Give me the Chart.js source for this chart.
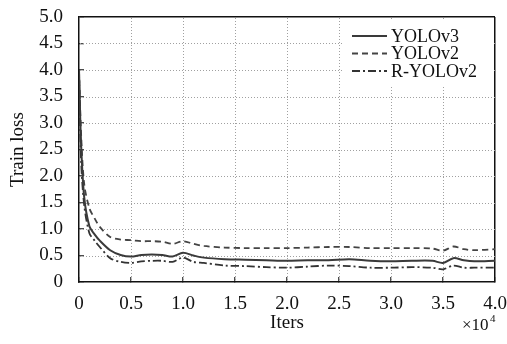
<!DOCTYPE html>
<html>
<head>
<meta charset="utf-8">
<script src="https://cdn.jsdelivr.net/npm/chart.js@4/dist/chart.umd.min.js"></script>
<style>
  html, body { margin: 0; padding: 0; background: #fff; }
  #wrap { width: 507px; height: 344px; }
</style>
</head>
<body>
<div id="wrap"><canvas id="lossChart"></canvas></div>
<script>
// iterations, in units of 10^4
const iters = [0, 0.02, 0.05, 0.1, 0.15, 0.2, 0.3, 0.4, 0.5, 0.6, 0.7, 0.8, 0.9, 1.0, 1.1, 1.2, 1.4, 1.6, 1.8, 2.0, 2.2, 2.4, 2.6, 2.8, 3.0, 3.2, 3.4, 3.5, 3.6, 3.7, 3.8, 4.0];

const yolov3  = [4.0, 2.6, 1.6, 1.05, 0.9, 0.78, 0.6, 0.51, 0.48, 0.51, 0.52, 0.51, 0.48, 0.55, 0.5, 0.46, 0.43, 0.42, 0.41, 0.40, 0.41, 0.41, 0.43, 0.40, 0.39, 0.40, 0.40, 0.36, 0.45, 0.41, 0.39, 0.40];
const yolov2  = [4.0, 2.8, 1.85, 1.39, 1.2, 1.04, 0.85, 0.8, 0.79, 0.77, 0.77, 0.76, 0.72, 0.77, 0.72, 0.68, 0.65, 0.64, 0.64, 0.64, 0.65, 0.66, 0.66, 0.64, 0.64, 0.64, 0.63, 0.59, 0.67, 0.62, 0.60, 0.62];
const ryolov2 = [4.0, 2.3, 1.45, 0.92, 0.78, 0.66, 0.45, 0.38, 0.36, 0.39, 0.40, 0.40, 0.38, 0.46, 0.38, 0.36, 0.31, 0.30, 0.28, 0.27, 0.29, 0.31, 0.30, 0.27, 0.27, 0.28, 0.27, 0.24, 0.31, 0.27, 0.27, 0.27];

const seriesNames = ['YOLOv3', 'YOLOv2', 'R-YOLOv2'];
const xTicks = [0, 0.5, 1.0, 1.5, 2.0, 2.5, 3.0, 3.5, 4.0];
const yTicks = [0, 0.5, 1.0, 1.5, 2.0, 2.5, 3.0, 3.5, 4.0, 4.5, 5.0];

const serif = "'Liberation Serif', 'DejaVu Serif', serif";
Chart.defaults.font.family = serif;
Chart.defaults.font.size = 18;
Chart.defaults.color = '#111';

function pts(ys) {
  return iters.map((x, i) => ({ x: x, y: ys[i] }));
}

function fmt(v) {
  return v === 0 ? '0' : v.toFixed(1);
}

// only the last gridline is drawn solid, it closes the frame (top / right)
function edgeColor(max) {
  return c => (c.tick && c.tick.value === max) ? '#111' : 'rgba(0,0,0,0)';
}

// dotted grid under the lines (drawn as 1px dots)
const dottedGrid = {
  id: 'dottedGrid',
  beforeDatasetsDraw(chart) {
    const c = chart.ctx;
    const a = chart.chartArea;
    const xs = chart.scales.x, ys = chart.scales.y;
    c.save();
    c.fillStyle = '#a0a0a0';
    xTicks.slice(1, -1).forEach(v => {
      const px = Math.round(xs.getPixelForValue(v));
      for (let y = Math.round(a.top) + 1; y < a.bottom; y += 3) c.fillRect(px, y, 1, 1);
    });
    yTicks.slice(1, -1).forEach(v => {
      const py = Math.round(ys.getPixelForValue(v));
      for (let x = Math.round(a.left) + 1; x < a.right; x += 3) c.fillRect(x, py, 1, 1);
    });
    c.restore();
  }
};

// legend box and the x10^4 note
const extras = {
  id: 'extras',
  afterDraw(chart) {
    const c = chart.ctx;
    c.save();
    c.fillStyle = '#fff';
    c.fillRect(343, 19, 150, 68);
    chart.data.datasets.forEach((ds, i) => {
      const y = 36 + i * 17.5;
      c.strokeStyle = ds.borderColor;
      c.lineWidth = ds.borderWidth;
      c.setLineDash(ds.borderDash || []);
      c.beginPath();
      c.moveTo(352, y);
      c.lineTo(387, y);
      c.stroke();
      c.setLineDash([]);
      c.fillStyle = '#111';
      c.font = '18px ' + serif;
      c.textBaseline = 'middle';
      c.fillText(ds.label, 391, y + 1);
    });

    c.fillStyle = '#111';
    c.textBaseline = 'alphabetic';
    c.font = '17px ' + serif;
    c.fillText('\u00d710', 462, 330);
    c.font = '11px ' + serif;
    c.fillText('4', 490, 322);
    c.restore();
  }
};

const ctx = document.getElementById('lossChart').getContext('2d');
const lossChart = new Chart(ctx, {
  type: 'line',
  data: {
    datasets: [
      {
        label: seriesNames[0],
        data: pts(yolov3),
        borderColor: '#3a3a3a',
        borderWidth: 2,
        pointRadius: 0,
        tension: 0.3,
        fill: false
      },
      {
        label: seriesNames[1],
        data: pts(yolov2),
        borderColor: '#444',
        borderWidth: 1.8,
        borderDash: [6, 4],
        pointRadius: 0,
        tension: 0.3,
        fill: false
      },
      {
        label: seriesNames[2],
        data: pts(ryolov2),
        borderColor: '#333',
        borderWidth: 1.8,
        borderDash: [8, 3, 2, 3],
        pointRadius: 0,
        tension: 0.3,
        fill: false
      }
    ]
  },
  options: {
    responsive: true,
    maintainAspectRatio: false,
    animation: false,
    layout: { padding: { top: 17, right: 12, left: 0, bottom: 0 } },
    plugins: {
      legend: { display: false },
      tooltip: { enabled: false }
    },
    scales: {
      x: {
        type: 'linear',
        min: 0,
        max: 4,
        afterBuildTicks: s => { s.ticks = xTicks.map(v => ({ value: v })); },
        afterFit: s => { s.height = 62; s.paddingLeft = 0; s.paddingRight = 0; },
        ticks: {
          callback: v => fmt(v),
          font: { family: serif, size: 19 },
          padding: 16,
          maxRotation: 0
        },
        grid: {
          color: edgeColor(4),
          lineWidth: 1.5,
          drawTicks: true,
          tickLength: -5,
          tickColor: '#111',
          tickWidth: 1
        },
        border: { display: true, color: '#111', width: 1.5 },
        title: {
          display: true,
          text: 'Iters',
          font: { family: serif, size: 19 },
          padding: { top: 0, bottom: 10 }
        }
      },
      y: {
        min: 0,
        max: 5,
        afterBuildTicks: s => { s.ticks = yTicks.map(v => ({ value: v })); },
        afterFit: s => { s.width = 79; s.paddingTop = 0; s.paddingBottom = 0; },
        ticks: {
          callback: v => fmt(v),
          font: { family: serif, size: 19 },
          padding: 21
        },
        grid: {
          color: edgeColor(5),
          lineWidth: 1.5,
          drawTicks: true,
          tickLength: -5,
          tickColor: '#111',
          tickWidth: 1
        },
        border: { display: true, color: '#111', width: 1.5 },
        title: {
          display: true,
          text: 'Train loss',
          font: { family: serif, size: 19 },
          padding: { top: 7, bottom: 0 }
        }
      }
    }
  },
  plugins: [dottedGrid, extras]
});
</script>
</body>
</html>
